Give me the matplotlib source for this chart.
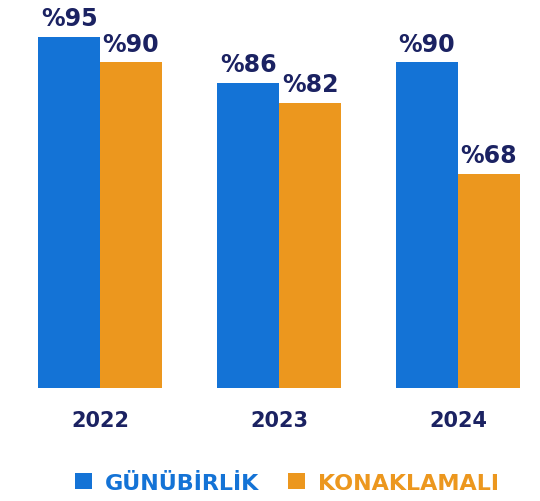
import numpy as np
import matplotlib
matplotlib.use('Agg')
from matplotlib import pyplot as plt

years = ['2022', '2023', '2024']
gunubirlik = [95, 86, 90]
konaklamali = [90, 82, 68]
series_names = ['GÜNÜBİRLİK', 'KONAKLAMALI']

blue = '#1473D6'
orange = '#EC971E'
navy = '#1B2262'

fig = plt.figure(figsize=(5.4, 5.02), dpi=100)
ax = fig.add_axes([0, 0.225, 1, 0.755])

x = np.arange(len(years))
w = 0.346
b1 = ax.bar(x - w/2, gunubirlik, w, color=blue, label=series_names[0])
b2 = ax.bar(x + w/2, konaklamali, w, color=orange, label=series_names[1])

# value labels on top of each bar
for bars, vals in ((b1, gunubirlik), (b2, konaklamali)):
	for bar, v in zip(bars, vals):
		ax.annotate(f'%{v}', (bar.get_x() + bar.get_width()/2, bar.get_height()),
			xytext=(0, 5), textcoords='offset points', ha='center', va='bottom',
			fontsize=17, fontweight='bold', color=navy)

ax.set_xlim(-0.559, 2.458)
ax.set_ylim(26, 100.5)
ax.set_xticks(x)
ax.set_xticklabels(years, fontsize=15, fontweight='bold', color=navy)
ax.tick_params(axis='x', length=0, pad=16)
ax.set_yticks([])
for s in ax.spines.values():
	s.set_visible(False)

fig.legend(handles=[b1, b2], loc='center', bbox_to_anchor=(0.532, 0.036), ncol=2,
	frameon=False, prop={'weight': 'bold', 'size': 16},
	labelcolor=[blue, orange], handlelength=0.75, handleheight=0.75,
	handletextpad=0.6, columnspacing=1.3)

fig.savefig('out.png', dpi=100)
